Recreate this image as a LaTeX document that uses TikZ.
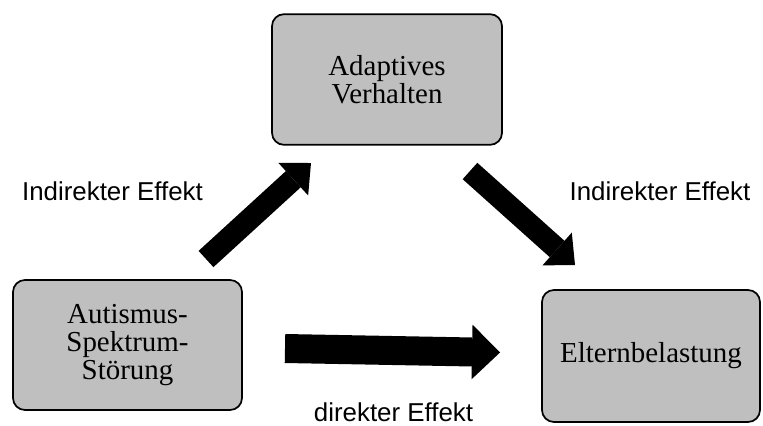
\documentclass[tikz,border=0pt]{standalone}
\usepackage{fontspec}
\setmainfont{Liberation Serif}
\newfontfamily\labelfont{Liberation Sans}
\usetikzlibrary{arrows.meta}
\definecolor{boxgray}{RGB}{191,191,191}

\begin{document}
\begin{tikzpicture}[x=0.75pt, y=-0.75pt,
    kasten/.style={draw, line width=1.3pt, rounded corners=9pt, fill=boxgray,
      inner sep=0pt, align=center, font=\fontsize{21.7}{21}\selectfont},
    effekt/.style={anchor=base, font=\labelfont\fontsize{19.4}{23}\selectfont},
    pfeil/.style={line width=16.5pt, -{Triangle[width=33pt, length=18pt, line width=0pt]}},
    breitpfeil/.style={line width=21.75pt, -{Triangle[width=41pt, length=21pt, line width=0pt]}}]
  \useasboundingbox (0, 0) rectangle (763, 425);

  % Kaesten
  \node[kasten, minimum width=172.5pt, minimum height=98pt] (adapt) at (387, 79.5) {Adaptives\\Verhalten};
  \node[kasten, minimum width=171.75pt, minimum height=97.5pt] (autism) at (127.5, 345) {Autismus-\\Spektrum-\\St\"orung};
  \node[kasten, minimum width=163.5pt, minimum height=99pt] (eltern) at (651, 356) {Elternbelastung};

  % Pfeile
  \coordinate (a1) at (206, 259);
  \coordinate (a2) at (311, 163);
  \coordinate (b1) at (470, 171);
  \coordinate (b2) at (575, 265);
  \coordinate (c1) at (285, 348.5);
  \coordinate (c2) at (500, 352.5);
  \draw[pfeil] (a1) -- (a2);
  \draw[pfeil] (b1) -- (b2);
  \draw[breitpfeil] (c1) -- (c2);

  % Beschriftungen
  \node[effekt] (ind1) at (112.5, 200) {Indirekter Effekt};
  \node[effekt] (ind2) at (660, 200) {Indirekter Effekt};
  \node[effekt] (dir) at (393.5, 421) {direkter Effekt};
\end{tikzpicture}
\end{document}
